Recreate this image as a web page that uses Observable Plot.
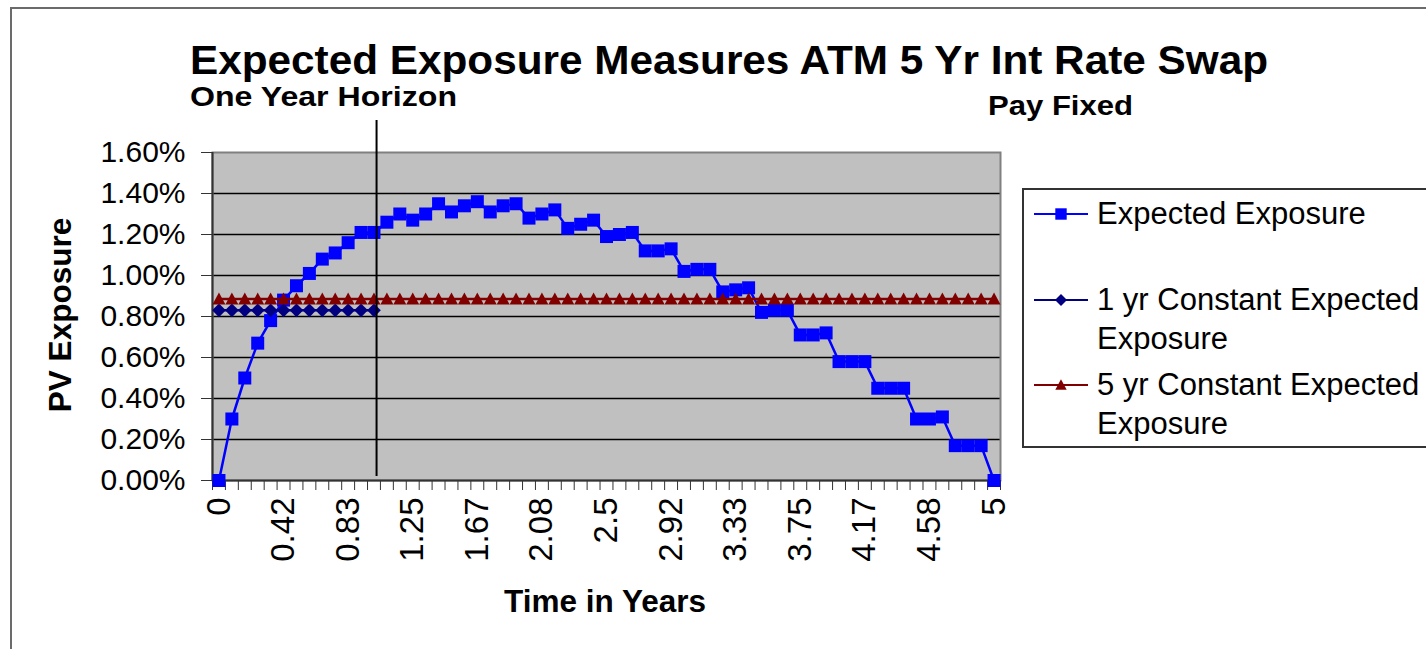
<!DOCTYPE html>
<html><head><meta charset="utf-8">
<script src="https://cdn.jsdelivr.net/npm/d3@7"></script>
<script src="https://cdn.jsdelivr.net/npm/@observablehq/plot@0.6"></script>
<style>
html,body{margin:0;padding:0;background:#fff;width:1426px;height:649px;overflow:hidden;font-family:"Liberation Sans",Arial,sans-serif;}
#wrap{position:relative;width:1426px;height:649px;overflow:hidden;}
#frame{position:absolute;left:10px;top:7px;width:1500px;height:700px;border-top:2px solid #6b6b6b;border-left:2px solid #6b6b6b;}
#chart{position:absolute;left:0;top:0;}
#overlay{position:absolute;left:0;top:0;}
#legend{position:absolute;left:1022px;top:188px;}
</style></head><body>
<div id="wrap"><div id="frame"></div><div id="chart"></div><svg id="overlay" width="1426" height="649"></svg><div id="legend"></div></div>
<script>
// ---- data ----
const chartTitle = "Expected Exposure Measures ATM 5 Yr Int Rate Swap";
const subtitleLeft = "One Year Horizon";
const subtitleRight = "Pay Fixed";
const yAxisTitle = "PV Exposure";
const xAxisTitle = "Time in Years";
const seriesNames = ["Expected Exposure", "1 yr Constant Expected Exposure", "5 yr Constant Expected Exposure"];
const timeLabels = ["0","0.42","0.83","1.25","1.67","2.08","2.5","2.92","3.33","3.75","4.17","4.58","5"];
const yTickValues = [0, 0.002, 0.004, 0.006, 0.008, 0.010, 0.012, 0.014, 0.016];
// monthly expected exposure, % of notional (months 0..60)
const expectedExposure = [
  0.00, 0.30, 0.50, 0.67, 0.78, 0.88, 0.95, 1.01, 1.08, 1.11,
  1.16, 1.21, 1.21, 1.26, 1.30, 1.27, 1.30, 1.35, 1.31, 1.34,
  1.36, 1.31, 1.34, 1.35, 1.28, 1.30, 1.32, 1.23, 1.25, 1.27,
  1.19, 1.20, 1.21, 1.12, 1.12, 1.13, 1.02, 1.03, 1.03, 0.92,
  0.93, 0.94, 0.82, 0.83, 0.83, 0.71, 0.71, 0.72, 0.58, 0.58,
  0.58, 0.45, 0.45, 0.45, 0.30, 0.30, 0.31, 0.17, 0.17, 0.17,
  0.00
];
const oneYearConstant = 0.83;   // %
const oneYearMonths = 12;
const fiveYearConstant = 0.885; // %
const horizonMonth = 12.2;
const horizonSpan = [0.0002, 0.01756];

const colors = {ee: "#0000FF", one: "#000080", five: "#800000"};

// ---- derived tables ----
const months = d3.range(expectedExposure.length);
const eeData = months.map(i => ({i, v: expectedExposure[i] / 100}));
const oneData = d3.range(oneYearMonths + 1).map(i => ({i, v: oneYearConstant / 100}));
const fiveData = months.map(i => ({i, v: fiveYearConstant / 100}));
const labelIdx = timeLabels.map(t => Math.round(+t * 12));
const boundaries = d3.range(months.length + 1).map(i => i - 0.5);
const gridValues = yTickValues.filter(d => d > 0 && d < 0.016);

const squareSym = {draw(ctx, size){ const h = Math.sqrt(size) / 2; ctx.rect(-h, -h, 2*h, 2*h); }};
const diamondSym = {draw(ctx, size){ const h = Math.sqrt(size) / 2 * 1.05; ctx.moveTo(0,-h); ctx.lineTo(h,0); ctx.lineTo(0,h); ctx.lineTo(-h,0); ctx.closePath(); }};
const triangleSym = {draw(ctx, size){ const h = Math.sqrt(size) / 2; ctx.moveTo(0,-h); ctx.lineTo(h,h*0.85); ctx.lineTo(-h,h*0.85); ctx.closePath(); }};
const mr = 13 / Math.sqrt(Math.PI);

const font = "Liberation Sans, Arial, sans-serif";

const chart = Plot.plot({
  width: 1426, height: 649,
  marginLeft: 212, marginRight: 426, marginTop: 152, marginBottom: 169,
  style: {fontFamily: font, fontSize: "30px", color: "#000", background: "transparent", overflow: "visible"},
  x: {type: "linear", domain: [-0.5, months.length - 0.5]},
  y: {domain: [0, 0.016]},
  marks: [
    Plot.frame({fill: "#C0C0C0"}),
    Plot.ruleY(gridValues, {stroke: "#000", strokeWidth: 1.5}),
    Plot.frame({stroke: "#808080", strokeWidth: 2}),
    Plot.axisY({ticks: yTickValues, tickFormat: d3.format(".2%"), tickSize: 11, tickPadding: 16, stroke: "#333", label: null}),
    Plot.axisX({ticks: boundaries, tickSize: 10, tickFormat: () => "", stroke: "#333", label: null}),
    Plot.axisX({ticks: labelIdx, tickSize: 0, tickPadding: 17, tickRotate: -90, fontSize: 33, tickFormat: d => timeLabels[labelIdx.indexOf(d)], label: null}),
    Plot.ruleX([-0.5], {stroke: "#333", strokeWidth: 2}),
    Plot.ruleY([0], {stroke: "#333", strokeWidth: 2}),
    Plot.line(eeData, {x: "i", y: "v", stroke: colors.ee, strokeWidth: 2.5}),
    Plot.dot(eeData, {x: "i", y: "v", symbol: squareSym, r: mr, fill: colors.ee, stroke: "none"}),
    Plot.line(oneData, {x: "i", y: "v", stroke: colors.one, strokeWidth: 2.5}),
    Plot.dot(oneData, {x: "i", y: "v", symbol: diamondSym, r: mr, fill: colors.one, stroke: "none"}),
    Plot.line(fiveData, {x: "i", y: "v", stroke: colors.five, strokeWidth: 2.5}),
    Plot.dot(fiveData, {x: "i", y: "v", symbol: triangleSym, r: mr, fill: colors.five, stroke: "none"}),
    Plot.ruleX([horizonMonth], {y1: horizonSpan[0], y2: horizonSpan[1], stroke: "#000", strokeWidth: 2})
  ]
});
document.getElementById("chart").appendChild(chart);

// ---- titles ----
const ov = d3.select("#overlay").style("font-family", font);
ov.append("text").attr("x", 190).attr("y", 74).attr("font-size", 40).attr("font-weight", "bold")
  .attr("textLength", 1078).attr("lengthAdjust", "spacingAndGlyphs").text(chartTitle);
ov.append("text").attr("x", 190).attr("y", 106).attr("font-size", 27).attr("font-weight", "bold")
  .attr("textLength", 267).attr("lengthAdjust", "spacingAndGlyphs").text(subtitleLeft);
ov.append("text").attr("x", 988).attr("y", 115).attr("font-size", 28).attr("font-weight", "bold")
  .attr("textLength", 145).attr("lengthAdjust", "spacingAndGlyphs").text(subtitleRight);
ov.append("text").attr("transform", "translate(71,315) rotate(-90)").attr("text-anchor", "middle").attr("font-size", 31.5).attr("font-weight", "bold").text(yAxisTitle);
ov.append("text").attr("x", 605).attr("y", 612).attr("text-anchor", "middle").attr("font-size", 31.5).attr("font-weight", "bold").text(xAxisTitle);

// ---- legend ----
const lg = d3.select("#legend").append("svg").attr("width", 420).attr("height", 262).style("font-family", font);
lg.append("rect").attr("x", 1).attr("y", 1).attr("width", 430).attr("height", 258).attr("fill", "#fff").attr("stroke", "#333").attr("stroke-width", 2);
const items = [
  {name: seriesNames[0], color: colors.ee, sym: squareSym, y: 26, lines: ["Expected Exposure"]},
  {name: seriesNames[1], color: colors.one, sym: diamondSym, y: 112, lines: ["1 yr Constant Expected", "Exposure"]},
  {name: seriesNames[2], color: colors.five, sym: triangleSym, y: 197, lines: ["5 yr Constant Expected", "Exposure"]}
];
items.forEach(it => {
  const g = lg.append("g");
  g.append("line").attr("x1", 12).attr("x2", 66).attr("y1", it.y).attr("y2", it.y).attr("stroke", it.color).attr("stroke-width", 2);
  g.append("path").attr("transform", `translate(39,${it.y})`).attr("d", d3.symbol(it.sym, 130)()).attr("fill", it.color);
  it.lines.forEach((t, k) => {
    g.append("text").attr("x", 75).attr("y", it.y + 10 + k * 39).attr("font-size", 31).attr("fill", "#000").text(t);
  });
});
</script>
</body></html>
